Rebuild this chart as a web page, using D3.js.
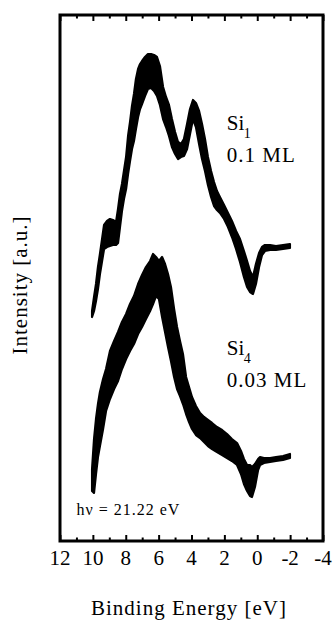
<!DOCTYPE html>
<html>
<head>
<meta charset="utf-8">
<script src="https://cdn.jsdelivr.net/npm/d3@7"></script>
</head>
<body style="margin:0">
<script>
"use strict";

/*
  data
  each spectrum is a noisy trace, so it is kept as an upper and lower
  envelope of the black band (intensity in arbitrary units)
*/

// Si1, 0.1 ML
const energy1 = [10.05, 9.93, 9.81, 9.69, 9.57, 9.44, 9.32, 9.14, 8.96, 8.78, 8.59, 8.47, 8.35, 8.23, 8.11,
  7.98, 7.86, 7.74, 7.62, 7.50, 7.38, 7.25, 7.13, 7.01, 6.83, 6.65, 6.46, 6.28, 6.10, 5.92, 5.73, 5.55,
  5.37, 5.19, 5.00, 4.82, 4.64, 4.46, 4.27, 4.09, 3.91, 3.73, 3.54, 3.36, 3.18, 3.00, 2.81, 2.63, 2.45,
  2.27, 2.02, 1.78, 1.54, 1.29, 1.05, 0.81, 0.62, 0.44, 0.26, 0.08, -0.11, -0.29, -0.47, -0.78, -1.14,
  -1.57, -1.99];
const upper1 = [46.0, 48.8, 51.4, 54.8, 57.4, 60.4, 63.2, 64.0, 64.4, 64.2, 63.8, 66.4, 69.4, 71.4, 74.0,
  76.8, 81.0, 83.8, 87.0, 89.4, 92.4, 94.4, 95.4, 96.0, 96.8, 97.4, 97.4, 97.2, 96.8, 95.0, 90.8, 88.8,
  87.2, 84.4, 81.8, 79.8, 79.4, 80.4, 83.4, 86.4, 88.2, 87.6, 86.0, 83.4, 80.4, 76.8, 74.0, 71.8, 70.0,
  68.8, 67.2, 65.6, 64.0, 62.0, 60.4, 58.0, 56.0, 54.0, 52.8, 55.4, 57.6, 58.8, 59.2, 59.2, 59.0,
  59.2, 59.4];
const lower1 = [44.8, 46.0, 48.0, 50.4, 53.4, 56.0, 58.4, 58.8, 59.0, 59.2, 59.2, 59.6, 62.8, 66.0, 68.4,
  70.4, 73.4, 76.0, 78.4, 80.0, 82.4, 84.8, 86.4, 87.4, 89.0, 90.4, 90.6, 90.0, 89.0, 87.2, 84.4, 82.8,
  81.0, 78.8, 77.4, 76.4, 76.8, 77.0, 78.4, 81.4, 84.4, 82.8, 79.4, 76.4, 74.0, 71.2, 68.8, 67.0, 66.2,
  65.6, 64.4, 62.8, 60.8, 58.4, 55.8, 52.8, 50.8, 49.8, 49.4, 51.4, 54.8, 57.2, 58.0, 58.2, 58.2,
  58.4, 58.6];

// Si4, 0.03 ML
const energy4 = [10.05, 9.93, 9.81, 9.69, 9.57, 9.38, 9.20, 8.96, 8.71, 8.47, 8.23, 7.98, 7.74, 7.50,
  7.25, 7.01, 6.77, 6.52, 6.34, 6.16, 5.98, 5.79, 5.61, 5.43, 5.25, 5.06, 4.88, 4.70, 4.52, 4.33, 4.15,
  3.97, 3.73, 3.48, 3.24, 3.00, 2.75, 2.45, 2.14, 1.84, 1.54, 1.23, 0.99, 0.81, 0.62, 0.44, 0.32, 0.14,
  -0.05, -0.17, -0.41, -0.78, -1.14, -1.57, -1.99];
const upper4 = [14.4, 20.4, 24.4, 27.4, 29.8, 32.4, 34.4, 38.0, 40.0, 41.8, 43.8, 45.4, 47.4, 49.0,
  51.4, 53.2, 54.8, 56.0, 57.4, 56.8, 56.0, 56.8, 55.4, 53.4, 50.8, 46.4, 42.8, 40.0, 37.4, 32.8, 30.8,
  28.8, 27.0, 25.6, 24.8, 24.2, 23.6, 22.8, 22.2, 21.4, 20.4, 19.6, 18.0, 16.4, 15.2, 15.2, 14.8, 15.4,
  16.4, 16.8, 16.6, 16.6, 16.8, 17.0, 17.4];
const lower4 = [10.0, 9.6, 13.4, 16.8, 19.0, 22.4, 26.0, 28.4, 30.4, 32.0, 34.4, 36.4, 38.0, 39.4,
  41.4, 42.8, 44.4, 46.0, 47.4, 49.0, 48.4, 44.8, 41.8, 38.8, 36.0, 32.8, 30.4, 29.0, 27.4, 25.4, 23.8,
  22.4, 21.2, 20.6, 19.8, 19.0, 18.4, 17.8, 17.2, 16.6, 16.0, 15.2, 13.4, 11.4, 10.0, 9.0, 8.8, 10.8,
  14.2, 15.2, 15.6, 15.8, 16.0, 16.2, 16.6];

// axis
const energyRange = [12, -4];
const intensityRange = [0, 105.2];
const majorTicks = [12, 10, 8, 6, 4, 2, 0, -2, -4];
const minorTicks = [11, 9, 7, 5, 3, 1, -1, -3];

// texts
const xTitle = "Binding Energy [eV]";
const yTitle = "Intensity [a.u.]";
const photonText = "h\u03bd = 21.22 eV";
const labels = [
  { name: "Si", sub: "1", cover: "0.1 ML", E: 1.85, I: 82.2 },
  { name: "Si", sub: "4", cover: "0.03 ML", E: 1.85, I: 37.2 }
];

/* layout */
const width = 333, height = 620;
const margin = { top: 15, right: 10, bottom: 79, left: 60 };
const plotW = width - margin.left - margin.right;
const plotH = height - margin.top - margin.bottom;

const svg = d3.select("body").append("svg")
  .attr("width", width)
  .attr("height", height);

const g = svg.append("g")
  .attr("transform", "translate(" + margin.left + "," + margin.top + ")");

const x = d3.scaleLinear().domain(energyRange).range([0, plotW]);
const y = d3.scaleLinear().domain(intensityRange).range([plotH, 0]);

// helper for every piece of text: serif face, given size
function addText(parent, size, str) {
  return parent.append("text")
    .attr("font-family", "Liberation Serif")
    .style("font-family", "'Liberation Serif'")
    .style("font-size", size + "px")
    .text(str);
}

// spectra as filled bands
const band = d3.area()
  .x(function(d) { return x(d.E); })
  .y0(function(d) { return y(d.lo); })
  .y1(function(d) { return y(d.hi); });

function zipBand(E, hi, lo) {
  return E.map(function(e, i) { return { E: e, hi: hi[i], lo: lo[i] }; });
}

[zipBand(energy1, upper1, lower1), zipBand(energy4, upper4, lower4)].forEach(function(data) {
  g.append("path")
    .datum(data)
    .attr("d", band)
    .attr("fill", "#000")
    .attr("stroke", "#000")
    .attr("stroke-width", 2.2)
    .attr("stroke-linejoin", "round");
});

// ticks, all pointing inward
function tickAxis(axisFn, values, size, ty) {
  const ax = g.append("g")
    .attr("transform", "translate(0," + ty + ")")
    .call(axisFn(x).tickValues(values).tickSize(-size).tickFormat(""));
  ax.select(".domain").remove();
  ax.selectAll("line").attr("stroke-width", 2);
  return ax;
}
tickAxis(d3.axisBottom, majorTicks, 6, plotH);
tickAxis(d3.axisBottom, minorTicks, 3.5, plotH);
tickAxis(d3.axisTop, majorTicks, 6, 0);
tickAxis(d3.axisTop, minorTicks, 3.5, 0);

// frame
g.append("rect")
  .attr("x", 0).attr("y", 0)
  .attr("width", plotW).attr("height", plotH)
  .attr("fill", "none")
  .attr("stroke", "#000")
  .attr("stroke-width", 3);

// tick labels, placed by the scale
majorTicks.forEach(function(d) {
  addText(g, 21, d < 0 ? "-" + Math.abs(d) : String(d))
    .attr("x", x(d))
    .attr("y", plotH + 24)
    .attr("text-anchor", "middle");
});

// axis titles
addText(svg, 21, xTitle)
  .attr("x", 189).attr("y", 615)
  .attr("text-anchor", "middle")
  .style("letter-spacing", "1px");

addText(svg, 21, yTitle)
  .attr("transform", "translate(27,285) rotate(-90)")
  .attr("text-anchor", "middle")
  .style("letter-spacing", "1px");

// sample labels
labels.forEach(function(l) {
  const t = addText(g, 21, l.name)
    .attr("x", x(l.E)).attr("y", y(l.I));
  addText(g, 14, l.sub)
    .attr("x", x(l.E) + 17).attr("y", y(l.I) + 8);
  addText(g, 21, l.cover)
    .attr("x", x(l.E)).attr("y", y(l.I) + 32)
    .style("letter-spacing", "1px");
});

// photon energy
addText(g, 16, photonText)
  .attr("x", x(11.0)).attr("y", 500)
  .style("letter-spacing", "1px");
</script>
</body>
</html>
